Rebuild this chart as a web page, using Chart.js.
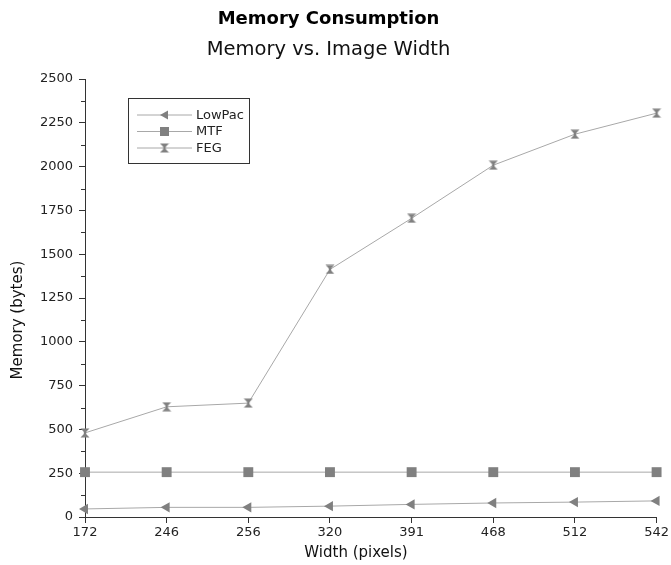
<!DOCTYPE html>
<html><head><meta charset="utf-8">
<script src="https://cdn.jsdelivr.net/npm/chart.js@4/dist/chart.umd.min.js"></script>
<style>html,body{margin:0;padding:0;background:#fff}#wrap{width:671px;height:565px;position:relative}</style>
</head><body><div id="wrap"><canvas id="c" width="671" height="565"></canvas></div>
<script>
const categories = ['172','246','256','320','391','468','512','542'];
const lowPac = [46, 55, 55, 62, 72, 80, 85, 92];
const mtf = [256, 256, 256, 256, 256, 256, 256, 256];
const feg = [480, 629, 650, 1413, 1705, 2008, 2185, 2305];
const seriesNames = ['LowPac', 'MTF', 'FEG'];
const xTitle = 'Width (pixels)';
const yTitle = 'Memory (bytes)';

const FONT = "'DejaVu Sans', sans-serif";
const MARK = '#808080';
const LINE = '#a8a8a8';

function hourglass(size){
  const c = document.createElement('canvas');
  c.width = size; c.height = size;
  const g = c.getContext('2d');
  g.fillStyle = MARK;
  g.beginPath(); g.moveTo(0.5,0.5); g.lineTo(size-0.5,0.5); g.lineTo(size/2,size/2); g.closePath(); g.fill();
  g.beginPath(); g.moveTo(0.5,size-0.5); g.lineTo(size-0.5,size-0.5); g.lineTo(size/2,size/2); g.closePath(); g.fill();
  g.fillRect(size/2-1.2, 1, 2.4, size-2);
  return c;
}
const hg = hourglass(10);

const minorTicks = {
  id: 'minorTicks',
  afterDraw(chart){
    const ctx = chart.ctx, y = chart.scales.y, x0 = chart.chartArea.left;
    ctx.save(); ctx.strokeStyle = '#333'; ctx.lineWidth = 1;
    for (let v = 125; v < 2500; v += 250){
      const py = Math.round(y.getPixelForValue(v)) + 0.5;
      ctx.beginPath(); ctx.moveTo(x0 - 4, py); ctx.lineTo(x0, py); ctx.stroke();
    }
    ctx.restore();
  }
};

const axisTitles = {
  id: 'axisTitles',
  afterDraw(chart){
    const ctx = chart.ctx;
    ctx.save();
    ctx.fillStyle = '#111'; ctx.font = '15px ' + FONT;
    ctx.textAlign = 'center'; ctx.textBaseline = 'middle';
    ctx.fillText(xTitle, 356, 553);
    ctx.translate(18, 320); ctx.rotate(-Math.PI/2);
    ctx.fillText(yTitle, 0, 0);
    ctx.restore();
  }
};

const boxLegend = {
  id: 'boxLegend',
  afterDraw(chart){
    const ctx = chart.ctx;
    const bx = 128.5, by = 98.5, bw = 121, bh = 65;
    ctx.save();
    ctx.fillStyle = '#fff'; ctx.fillRect(bx, by, bw, bh);
    ctx.strokeStyle = '#333'; ctx.lineWidth = 1; ctx.strokeRect(bx, by, bw, bh);
    ctx.font = '13px ' + FONT; ctx.textBaseline = 'middle'; ctx.fillStyle = '#222';
    chart.data.datasets.forEach((ds, i) => {
      const ry = 115 + i * 16.5;
      ctx.strokeStyle = LINE; ctx.beginPath(); ctx.moveTo(137, ry); ctx.lineTo(192, ry); ctx.stroke();
      ctx.fillStyle = MARK;
      const st = ds.pointStyle;
      if (st === 'triangle') {
        ctx.beginPath(); ctx.moveTo(160, ry); ctx.lineTo(168, ry-4.5); ctx.lineTo(168, ry+4.5); ctx.closePath(); ctx.fill();
      } else if (st === 'rect') {
        ctx.fillRect(160, ry-4.5, 9, 9);
      } else {
        ctx.drawImage(st, 159.5, ry-5, 10, 10);
      }
      ctx.fillStyle = '#222';
      ctx.fillText(ds.label, 196, ry + 0.5);
    });
    ctx.restore();
  }
};

new Chart(document.getElementById('c'), {
  type: 'line',
  data: {
    labels: categories,
    datasets: [
      { label: seriesNames[0], data: lowPac, borderColor: LINE, borderWidth: 1, pointStyle: 'triangle', rotation: -90, pointRadius: 6, pointBackgroundColor: MARK, pointBorderColor: MARK, pointBorderWidth: 0 },
      { label: seriesNames[1], data: mtf, borderColor: LINE, borderWidth: 1, pointStyle: 'rect', pointRadius: 7, pointBackgroundColor: MARK, pointBorderColor: MARK, pointBorderWidth: 0 },
      { label: seriesNames[2], data: feg, borderColor: LINE, borderWidth: 1, pointStyle: hg, pointRadius: 5, pointBackgroundColor: MARK, pointBorderColor: MARK }
    ]
  },
  options: {
    responsive: false, animation: false,
    layout: { padding: { top: 0, right: 14, bottom: 0, left: 0 } },
    elements: { line: { tension: 0 } },
    clip: false,
    plugins: {
      legend: { display: false },
      tooltip: { enabled: false },
      title: { display: true, text: 'Memory Consumption', color: '#000', font: { family: FONT, size: 18, weight: 'bold' }, padding: { top: 9, bottom: 6 } },
      subtitle: { display: true, text: 'Memory vs. Image Width', color: '#111', font: { family: FONT, size: 19.5 }, padding: { top: 2, bottom: 17 } }
    },
    scales: {
      x: {
        type: 'category', offset: false,
        grid: { display: true, drawOnChartArea: false, drawTicks: true, tickLength: 6, color: '#333' },
        border: { display: true, color: '#333' },
        ticks: { color: '#222', font: { family: FONT, size: 13 }, padding: 2, maxRotation: 0, autoSkip: false },
        title: { display: false },
        afterFit(s){ s.height = 48; }
      },
      y: {
        min: 0, max: 2500,
        grid: { display: true, drawOnChartArea: false, drawTicks: true, tickLength: 6, color: '#333' },
        border: { display: true, color: '#333' },
        ticks: { stepSize: 250, color: '#222', font: { family: FONT, size: 13 }, padding: 6, callback: v => String(v) },
        title: { display: false },
        afterFit(s){ s.width = 85; }
      }
    }
  },
  plugins: [minorTicks, axisTitles, boxLegend]
});
</script></body></html>
